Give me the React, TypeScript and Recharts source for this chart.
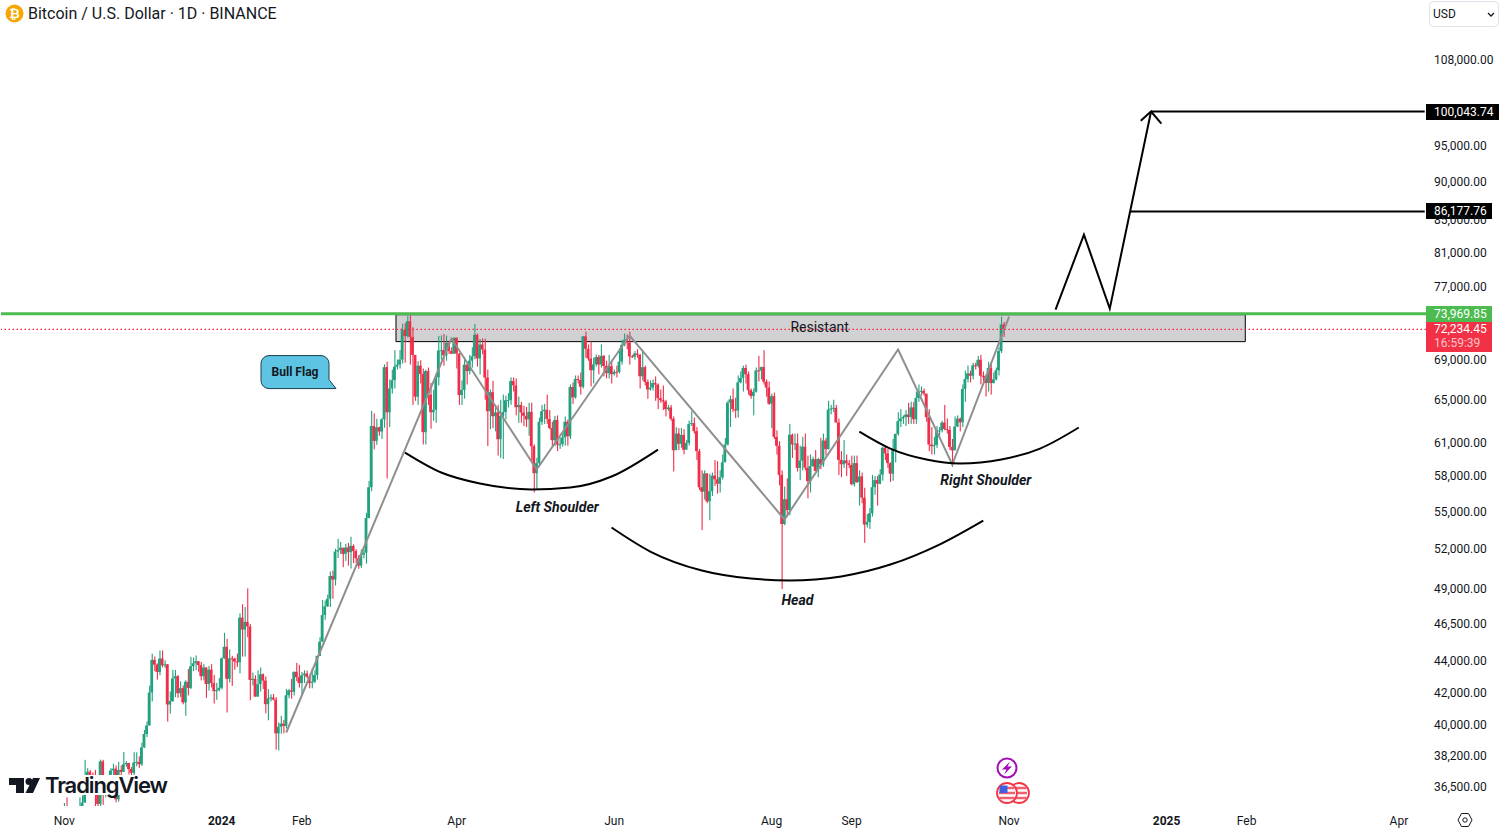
/**
 * App.tsx
 * BTC/USD daily candles with head-and-shoulders drawing, Recharts only.
 */
import {
  ComposedChart,
  Bar,
  Line,
  XAxis,
  YAxis,
  ReferenceLine,
  ReferenceArea,
  ReferenceDot,
} from "recharts";

const UP = "#22a17f";
const DOWN = "#f02e49";
const INK = "#131722";
const FONT = "Roboto, sans-serif";

// daily candles from 2023-11-01, each line is one month
const FIRST_CANDLE = "2023-11-01";
const FIRST_OPEN = 34640;
const CLOSES = [
  35400,34900,34700,35050,35000,35040,35420,35630,36700,37300,37130,37060,36460,35550,37880,36160,36590,36570,37370,37470,35800,37400,37290,37720,37790,37450,37240,37820,37850,37720,
  38680,39460,39970,41980,44080,43770,43290,44170,43720,43790,41240,41450,42880,43020,41940,42260,41370,42660,42270,43660,43860,43990,43740,43020,43580,42520,43440,42580,42070,42140,42280,
  44180,44950,42850,44180,44160,43970,43930,46950,46120,46650,46340,42780,42850,41730,42510,43140,42740,41260,41620,41670,41540,39500,39890,40080,39940,41810,42120,42030,43300,42950,42580,
  43080,43190,42990,42580,42660,43090,44340,45290,47130,47750,48290,49960,49700,51820,51930,52120,51640,52130,51770,52260,51850,51300,50740,51570,51730,54480,57040,62500,61130,
  62390,61990,63130,68240,63800,66100,66930,68300,68500,69020,72120,71480,73080,71390,69500,65300,68390,67550,61930,67840,65500,63800,64040,67210,69960,69990,69450,70780,69900,69630,71290,
  69650,65460,65960,68490,67840,68900,69360,71620,69140,70590,70060,67190,63900,65740,63420,63790,61280,63470,63820,64950,64960,66840,66410,64280,64500,63770,63460,63120,63840,60640,
  58250,59120,62890,63890,64030,63160,62310,61190,63070,60790,60830,61450,62900,61550,66250,65230,67050,66940,66270,71450,70140,69120,67930,68530,69280,68510,69400,68360,67630,68350,67530,
  67760,67750,68800,70560,71110,70790,69350,69310,69650,69500,67320,68240,66750,66010,66190,66640,66490,65150,64960,64830,64100,64250,63180,60280,61800,60860,61670,60320,60940,62680,
  62770,62020,60200,57040,56660,58230,55850,56700,58040,57720,57340,57890,59200,60800,64720,65040,64090,63970,66710,67150,68160,67530,65930,65370,65780,67910,67900,68250,66780,66190,64620,
  65350,61490,60680,58110,53990,56030,55130,61690,60810,60890,58710,59350,60600,58730,57560,58870,59480,58450,59490,59010,61160,60380,64040,64160,64220,62830,59420,59030,59370,59120,58970,
  57300,59130,57480,57970,56160,53950,54160,54870,57040,57650,57340,58130,60500,60000,59130,58210,60310,61760,62950,63200,63350,63580,63340,64260,63140,65180,65770,65870,65600,63330,
  60800,60650,60750,62080,62090,62820,62220,62130,60580,60270,62450,63190,62850,66050,67040,67610,67370,68430,68360,69000,67370,67360,66650,68160,66640,67010,67930,69900,72730,72234,
];
const HIGHS = [
  35600,35900,34900,35200,35400,35300,35900,36000,37970,37500,37400,37260,37400,36800,37980,37970,36800,36850,37500,37750,37650,37860,37650,38420,37900,37800,37560,38400,38400,38170,
  38950,39700,40220,42420,44490,44300,43850,44700,44700,44050,43800,42050,43430,43420,43090,42700,42430,42760,43480,44280,44240,44370,44000,43950,43800,43600,43680,43800,43100,42600,42900,
  44240,45900,45500,44770,44350,44230,44500,47250,47900,47700,49050,46500,43250,43080,43400,43580,43200,43000,42200,41870,41890,41700,40150,40550,40300,42200,42200,42840,43320,43880,43750,
  43290,43400,43380,43120,43530,43400,44370,45600,48200,48160,48590,50300,50370,52040,52820,52570,52000,52420,52490,52980,52380,52000,51540,51980,51950,54900,57580,63930,63680,
  63180,62430,63230,68530,68800,67000,67990,70000,69020,70000,72800,72900,73650,73780,72420,68900,68860,68950,68100,68000,68200,66650,65970,67620,71500,71550,71700,71540,71000,70300,71370,
  71340,69680,66900,69300,68700,69500,70300,72800,71750,71170,71240,71200,68000,66000,66870,64500,64500,65000,65500,65400,65650,67200,67200,67100,65300,64800,64400,64300,64700,64700,
  60800,59600,63300,64500,64600,65500,64000,62900,63450,63500,61450,61800,63400,63100,66500,66700,67400,67400,67700,71500,71950,70600,70900,69200,69550,69500,70600,69500,68900,69500,69000,
  68000,68400,70200,71050,71750,71650,71950,69500,69900,70100,69600,70000,68400,67000,66900,67000,67300,66600,66000,66400,65000,64500,64500,63400,62400,62300,62300,62200,61200,63000,
  63900,63300,62400,60400,58500,58500,58250,58200,58300,59400,59300,58500,59900,61400,64900,65400,66100,65200,67400,67800,68400,68500,67800,66100,66100,68200,69400,68300,70000,67000,66800,
  65600,65700,62100,61100,58500,57100,57800,62700,61800,61800,61800,60700,61500,61800,59800,59900,59700,60300,59600,61400,61800,61400,64900,64500,65000,64500,63200,60200,61200,59900,59400,
  59800,59800,59800,58500,58300,57000,54800,55300,58100,58000,58000,58600,60600,60700,60400,59200,61300,61800,63800,64100,63500,64000,64700,64800,64800,65800,66500,66300,66100,65500,
  64100,62400,61500,62500,62400,63000,64500,63200,62500,61300,63400,63500,63300,66500,67900,68400,67900,68700,68700,69400,69500,67800,67500,68800,68700,67700,68200,70300,73600,73000,
];
const LOWS = [
  34100,34500,34100,34600,34500,34750,34520,35100,35600,36350,36750,36770,35400,35350,35350,35500,35900,36250,36250,36700,35630,35670,36880,37600,37580,37150,36800,37100,37600,37500,
  37620,38650,39280,39970,41420,43350,42800,43080,43590,43560,40200,40680,41400,41700,41650,41700,41250,40550,41800,42200,43350,43400,43300,42750,42750,41650,42100,42300,41300,41530,42060,
  42180,44150,40750,42620,42400,43430,43620,43200,44300,44300,45600,41500,42430,41720,41720,42050,42200,40700,40280,41430,41500,38550,38500,39480,39500,39800,41620,41600,41800,42700,42300,
  41880,42580,42880,42250,42250,42570,42800,44340,45300,46800,47700,47700,48300,49250,51320,51630,50620,51100,50740,50520,50930,50900,50500,50570,51300,50900,54450,56700,60360,
  60770,61600,61300,62340,57800,62400,65600,66100,68000,68100,68600,68700,71300,68500,64500,64900,64500,66600,60800,60800,64500,62250,63000,62800,66400,69000,68380,68900,69600,69570,69600,
  68100,64500,64500,65100,66500,67500,68200,69050,68300,67500,69570,65000,60660,62200,62300,62000,59800,59600,59500,63100,64250,64500,65800,63500,62800,62800,62500,62400,61600,59200,
  56600,56900,58800,62600,62700,62700,62200,60600,60650,60200,60400,60600,60700,60700,61300,64600,65100,66600,65500,66100,69200,68900,66300,66600,68300,67500,68200,67300,67100,67100,66600,
  67400,67200,67600,68500,70400,70100,68500,69200,69000,69200,66100,66900,66400,65100,65900,65900,64900,64100,64700,64000,63400,63950,63000,58400,60500,60300,60500,59900,60500,60700,
  62500,61800,59400,56800,53500,56000,55700,54300,56300,57150,56500,56600,57700,59800,60700,62400,63800,63250,63300,66600,65800,66600,65500,65100,63500,65700,66800,67000,66500,65300,64500,
  62300,61300,59900,57200,49000,53900,54600,54700,59600,60300,58400,57650,58500,58500,56100,56600,58800,58400,57900,58600,58800,59800,60350,63600,63800,62800,58100,57900,58700,58000,58700,
  57200,57100,57400,55500,55700,52500,53700,53600,54600,56400,55500,57300,57600,59400,58700,57500,57600,59200,61600,62400,62700,62500,62700,62700,62700,62700,64800,65400,65400,62900,
  60200,59900,59900,60500,61500,61900,62100,61800,60300,58800,60400,62400,62000,62400,64800,66700,66700,67000,68000,68200,66500,66600,65300,65800,65500,66600,66900,67400,69700,71400,
];

// price scale
const PRICE_TICKS = [108000, 95000, 90000, 85000, 81000, 77000, 69000, 65000, 61000, 58000, 55000, 52000, 49000, 46500, 44000, 42000, 40000, 38200, 36500];
const PRICE_DOMAIN = [35440, 118060];

// time scale
const AXIS_START = "2023-10-08";
const AXIS_DAYS = 552;
const TIME_TICKS = ["2023-11-01", "2024-01-01", "2024-02-01", "2024-04-01", "2024-06-01", "2024-08-01", "2024-09-01", "2024-11-01", "2025-01-01", "2025-02-01", "2025-04-01"];
const TIME_LABELS = ["Nov", "2024", "Feb", "Apr", "Jun", "Aug", "Sep", "Nov", "2025", "Feb", "Apr"];

// drawings, as [date, price]
const ZIGZAG = [["2024-01-26", 39550], ["2024-03-30", 71220], ["2024-05-02", 58570], ["2024-06-07", 71540], ["2024-08-06", 54360], ["2024-09-19", 70060], ["2024-10-10", 59010], ["2024-11-01", 73590]];
const LEFT_ARC = [["2024-03-12", 60070], ["2024-03-26", 58310], ["2024-04-10", 57360], ["2024-04-30", 56850], ["2024-05-15", 57010], ["2024-05-31", 57960], ["2024-06-18", 60340]];
const RIGHT_ARC = [["2024-09-04", 61980], ["2024-09-16", 60430], ["2024-09-30", 59450], ["2024-10-13", 59100], ["2024-10-29", 59450], ["2024-11-13", 60430], ["2024-11-28", 62360]];
const HEAD_ARC = [["2024-05-31", 53710], ["2024-06-15", 51820], ["2024-07-05", 50370], ["2024-07-24", 49770], ["2024-08-08", 49630], ["2024-08-28", 49930], ["2024-09-16", 50820], ["2024-10-05", 52360], ["2024-10-22", 54270]];
const PROJECTION = [["2024-11-19", 74370], ["2024-11-30", 83170], ["2024-12-10", 74470], ["2024-12-26", 99950]];
const ARROW_HEAD = [["2024-12-22", 98600], ["2024-12-26", 99950], ["2024-12-30", 98160]];

// levels as they sit on the picture's price scale
const RESIST_LEVEL = 73900;
const LAST_PRICE = 72190;
const TARGET_ONE = 86100;
const TARGET_TWO = 99950;

const dayKey = (start: string, n: number) => {
  const d = new Date(start + "T00:00:00Z");
  d.setUTCDate(d.getUTCDate() + n);
  return d.toISOString().slice(0, 10);
};

const rows: any[] = [];
for (let i = 0; i < AXIS_DAYS; i++) rows.push({ day: dayKey(AXIS_START, i) });
const byDay = new Map(rows.map((r) => [r.day, r]));

CLOSES.forEach((close, i) => {
  const row = byDay.get(dayKey(FIRST_CANDLE, i));
  const open = i === 0 ? FIRST_OPEN : CLOSES[i - 1];
  Object.assign(row, { open, close, high: HIGHS[i], low: LOWS[i], up: close >= open });
});

const addDrawing = (key: string, points: any[]) => {
  points.forEach(([day, price]) => (byDay.get(day)[key] = price));
};
addDrawing("zigzag", ZIGZAG);
addDrawing("leftArc", LEFT_ARC);
addDrawing("rightArc", RIGHT_ARC);
addDrawing("headArc", HEAD_ARC);
addDrawing("projection", PROJECTION);
addDrawing("arrowHead", ARROW_HEAD);

const LAST_DAY = rows[rows.length - 1].day;

const candlePart = (width: number) => (p: any) => {
  const fill = p.payload.up ? UP : DOWN;
  const cx = p.x + p.width / 2;
  return <rect x={cx - width / 2} y={p.y} width={width} height={Math.max(p.height, 1)} fill={fill} />;
};

function TimeTick({ x, y, payload }: any) {
  const label = TIME_LABELS[TIME_TICKS.indexOf(payload.value)];
  const bold = label.length === 4;
  return (
    <text x={x} y={y + 11} textAnchor="middle" fontFamily={FONT} fontSize={12} fontWeight={bold ? 700 : 400} fill={INK}>
      {label}
    </text>
  );
}

function priceTag(text: string, bg: string, w: number, sub?: string) {
  return (props: any) => {
    const y = Math.round(props.viewBox.y);
    return (
      <g>
        <rect x={1426} y={y - 8} width={w} height={sub ? 31 : 16} fill={bg} />
        <text x={1434} y={sub ? y + 4 : y + 3.5} fontFamily={FONT} fontSize={12} fill="#fff">{text}</text>
        {sub && <text x={1434} y={y + 18} fontFamily={FONT} fontSize={12} fill="#fbc3cb">{sub}</text>}
      </g>
    );
  };
}

const noteText = (text: string, width: number) => (p: any) => (
  <text x={p.cx} y={p.cy + 5} textAnchor="middle" fontFamily={FONT} fontSize={14} fontWeight={700} fontStyle="italic" fill={INK} textLength={width} lengthAdjust="spacingAndGlyphs">
    {text}
  </text>
);

const bullFlag = (p: any) => {
  const cx = p.cx + 1;
  return (
    <g>
      <path
        d={`M${cx - 26} ${p.cy - 16} H${cx + 26} a8 8 0 0 1 8 8 V${p.cy + 8} L${cx + 41} ${p.cy + 17} H${cx - 26} a8 8 0 0 1 -8 -8 V${p.cy - 8} a8 8 0 0 1 8 -8 Z`}
        fill="#5dc5e3"
        stroke="#1c3f4d"
        strokeWidth={1}
      />
      <text x={cx} y={p.cy + 4} textAnchor="middle" fontFamily={FONT} fontSize={12} fontWeight={700} fill={INK} textLength={47} lengthAdjust="spacingAndGlyphs">
        Bull Flag
      </text>
    </g>
  );
};

function Header() {
  return (
    <div style={{ position: "absolute", left: 0, top: 0, width: 300, height: 27, background: "#fff" }}>
      <svg width={20} height={20} style={{ position: "absolute", left: 5, top: 4 }}>
        <circle cx={9.5} cy={9.5} r={9} fill="#f7a600" />
        <text x={9.5} y={14} textAnchor="middle" fontFamily={FONT} fontSize={13} fontWeight={700} fill="#fff">₿</text>
      </svg>
      <div style={{ position: "absolute", left: 28, top: 4, fontFamily: FONT, fontSize: 16, lineHeight: "19px", color: INK, whiteSpace: "nowrap" }}>
        Bitcoin / U.S. Dollar · 1D · BINANCE
      </div>
    </div>
  );
}

function CurrencyBox() {
  return (
    <div style={{ position: "absolute", left: 1429, top: 1, width: 68, height: 24, border: "1px solid #e0e3eb", borderRadius: 4, background: "#fff", fontFamily: FONT, fontSize: 12, color: INK }}>
      <span style={{ position: "absolute", left: 3, top: 5 }}>USD</span>
      <svg width={8} height={6} style={{ position: "absolute", left: 57, top: 10 }}>
        <path d="M1 1 L4 4 L7 1" fill="none" stroke={INK} strokeWidth={1.3} />
      </svg>
    </div>
  );
}

function Logo() {
  return (
    <div style={{ position: "absolute", left: 8, top: 775, width: 161, height: 20, background: "#fff", borderRadius: 4 }}>
      <svg width={34} height={20} style={{ position: "absolute", left: 0, top: 0 }}>
        <path d="M1 3 H16 V18 H8 V10 H1 Z" fill={INK} />
        <circle cx={21} cy={6.5} r={3.5} fill={INK} />
        <path d="M25 3 H32 L25 18 H17.5 Z" fill={INK} />
      </svg>
      <div style={{ position: "absolute", left: 37, top: -2, fontFamily: "Inter, sans-serif", fontSize: 22, lineHeight: "24px", fontWeight: 600, letterSpacing: -1.1, color: INK, whiteSpace: "nowrap" }}>
        TradingView
      </div>
    </div>
  );
}

function UsFlag({ cx }: { cx: number }) {
  return (
    <g>
      <circle cx={cx} cy={13} r={10} fill="#fff" stroke="#f23645" strokeWidth={1.8} />
      <path d={`M${cx - 7.5} 8 H${cx + 7.5} M${cx - 8} 13 H${cx + 8} M${cx - 7.5} 18 H${cx + 7.5}`} stroke="#f0616f" strokeWidth={2.4} />
    </g>
  );
}

function EventIcons() {
  return (
    <svg width={50} height={50} style={{ position: "absolute", left: 990, top: 757 }}>
      <circle cx={17} cy={11} r={9.5} fill="#fff" stroke="#a30fb5" strokeWidth={2} />
      <path d="M20 4.5 L12 12.5 H16.5 L14 17.5 L22 9.5 H17.5 Z" fill="#a30fb5" />
      <g transform="translate(0,23)">
        <UsFlag cx={29} />
        <UsFlag cx={17} />
        <rect x={9.5} y={5.5} width={8} height={7.5} fill="#3f5fe0" />
      </g>
    </svg>
  );
}

export default function App() {
  return (
    <div style={{ position: "absolute", left: 0, top: 0, width: 1500, height: 830, background: "#fff", overflow: "hidden" }}>
      <ComposedChart width={1500} height={830} data={rows} margin={{ top: 0, right: 0, bottom: 0, left: 1 }} barGap={0}>
        <XAxis
          dataKey="day"
          ticks={TIME_TICKS}
          interval={0}
          height={24}
          axisLine={false}
          tickLine={false}
          tick={<TimeTick />}
        />
        <XAxis xAxisId="body" dataKey="day" hide />
        <YAxis
          orientation="right"
          scale="log"
          domain={PRICE_DOMAIN}
          allowDataOverflow
          ticks={PRICE_TICKS}
          interval={0}
          width={74}
          axisLine={false}
          tickLine={false}
          tickMargin={2}
          tickFormatter={(v: number) => v.toLocaleString("en-US", { minimumFractionDigits: 2 })}
          tick={{ fontFamily: FONT, fontSize: 12, fill: INK, textAnchor: "start" }}
        />

        <ReferenceArea
          x1="2024-03-09"
          x2="2025-01-31"
          y1={73800}
          y2={70890}
          fill="#bdbdc2"
          fillOpacity={0.7}
          stroke="#000"
          strokeWidth={1}
          label={{ value: "Resistant", position: "center", fontFamily: FONT, fontSize: 14, fill: INK, dx: -1, dy: -1 }}
        />

        <Bar dataKey={(d: any) => (d.high ? [d.low, d.high] : null)} barSize={1} shape={candlePart(1.1)} isAnimationActive={false} />
        <Bar xAxisId="body" dataKey={(d: any) => (d.high ? [Math.min(d.open, d.close), Math.max(d.open, d.close)] : null)} barSize={2} shape={candlePart(2.8)} isAnimationActive={false} />

        <Line dataKey="zigzag" stroke="#8f8f8f" strokeWidth={2} dot={false} connectNulls isAnimationActive={false} />
        <Line dataKey="leftArc" type="monotone" stroke="#000" strokeWidth={2} dot={false} connectNulls isAnimationActive={false} />
        <Line dataKey="rightArc" type="monotone" stroke="#000" strokeWidth={2} dot={false} connectNulls isAnimationActive={false} />
        <Line dataKey="headArc" type="monotone" stroke="#000" strokeWidth={2} dot={false} connectNulls isAnimationActive={false} />
        <Line dataKey="projection" stroke="#000" strokeWidth={2} dot={false} connectNulls isAnimationActive={false} />
        <Line dataKey="arrowHead" stroke="#000" strokeWidth={2} dot={false} connectNulls isAnimationActive={false} />

        <ReferenceLine y={LAST_PRICE} stroke="#ff1f3d" strokeWidth={1.3} strokeDasharray="1.5 2.5" label={priceTag("72,234.45", "#f23146", 66, "16:59:39")} />
        <ReferenceLine y={RESIST_LEVEL} stroke="#4cbb50" strokeWidth={3} label={priceTag("73,969.85", "#4cbb50", 66)} />
        <ReferenceLine
          segment={[{ x: "2024-12-18", y: TARGET_ONE }, { x: LAST_DAY, y: TARGET_ONE }]}
          stroke="#000"
          strokeWidth={2}
          label={priceTag("86,177.76", "#000", 66)}
        />
        <ReferenceLine
          segment={[{ x: "2024-12-26", y: TARGET_TWO }, { x: LAST_DAY, y: TARGET_TWO }]}
          stroke="#000"
          strokeWidth={2}
          label={priceTag("100,043.74", "#000", 73)}
        />

        <ReferenceDot x="2024-01-29" y={67790} shape={bullFlag} />
        <ReferenceDot x="2024-05-10" y={55420} shape={noteText("Left Shoulder", 83)} />
        <ReferenceDot x="2024-10-23" y={57690} shape={noteText("Right Shoulder", 91)} />
        <ReferenceDot x="2024-08-11" y={48230} shape={noteText("Head", 32)} />
      </ComposedChart>

      <Header />
      <CurrencyBox />
      <Logo />
      <EventIcons />
      <svg width={16} height={16} style={{ position: "absolute", left: 1457, top: 812 }}>
        <path d="M4.5 1.5 H11.5 L15 8 L11.5 14.5 H4.5 L1 8 Z" fill="none" stroke={INK} strokeWidth={1} />
        <circle cx={8} cy={8} r={2.2} fill="none" stroke={INK} strokeWidth={1} />
      </svg>
    </div>
  );
}
